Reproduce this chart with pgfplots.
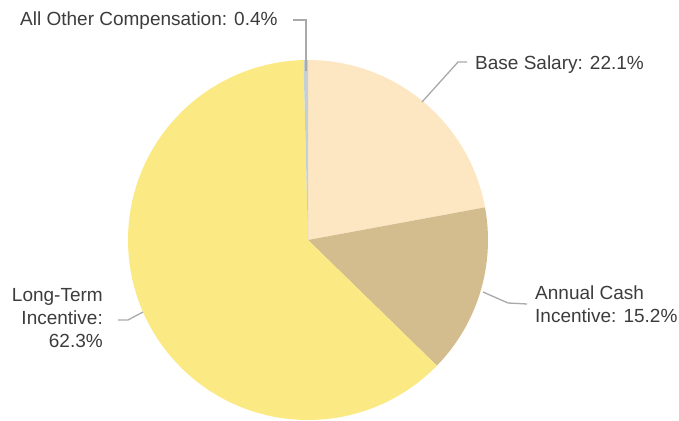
\documentclass[border=0pt]{standalone}
\usepackage{pgfplots}
\pgfplotsset{compat=1.18}
\usepackage{pgfplotstable}
\usepackage{fontspec}
\setmainfont{Liberation Sans}

\definecolor{cbase}{HTML}{FDE6C2}
\definecolor{ccash}{HTML}{D3BC8D}
\definecolor{clti}{HTML}{FBEA83}
\definecolor{cother}{HTML}{C5CFD6}
\definecolor{cleader}{HTML}{A9A9A9}
\definecolor{ctext}{HTML}{3C3C3C}

% share of total compensation, clockwise from 12 o'clock
\pgfplotstableread{
part  value colour
base  22.1  cbase
cash  15.2  ccash
lti   62.3  clti
other 0.4   cother
}\piedata

\begin{document}
\begin{tikzpicture}[
    lab/.style={text=ctext, font=\fontsize{19bp}{23bp}\selectfont, inner sep=0pt},
    leader/.style={cleader, line width=1.3bp}
]
\useasboundingbox (0,0) rectangle (679bp,421bp);
\begin{axis}[
    at={(0,0)}, anchor=south west,
    scale only axis,
    width=679bp, height=421bp,
    xmin=0, xmax=679, ymin=0, ymax=421,
    hide axis, clip=false
]
    \def\angA{90}
    \pgfplotsforeachungrouped \i in {0,...,3}{%
        \pgfplotstablegetelem{\i}{value}\of\piedata \let\val\pgfplotsretval
        \pgfplotstablegetelem{\i}{colour}\of\piedata \let\col\pgfplotsretval
        \pgfmathsetmacro\angB{\angA-3.6*\val}
        \edef\temp{\noexpand\fill[\col] (axis cs:308,181) -- ++(\angA:180bp)
            arc[start angle=\angA, end angle=\angB, radius=180bp] -- cycle;}
        \temp
        \let\angA\angB
    }

    % leaders
    \draw[leader] (axis cs:293,401) -- (axis cs:306,401) -- (axis cs:306,350);
    \draw[leader] (axis cs:467,359) -- (axis cs:458,359) -- (axis cs:422,319);
    \draw[leader] (axis cs:527,117) -- (axis cs:508,118) -- (axis cs:483,129);
    \draw[leader] (axis cs:118,101) -- (axis cs:128,101) -- (axis cs:143,109);

    % labels
    \node[lab, anchor=base west] at (axis cs:20,395) {All Other Compensation: 0.4\%};
    \node[lab, anchor=base west] at (axis cs:475,351) {Base Salary: 22.1\%};
    \node[lab, anchor=base west] at (axis cs:535,121) {Annual Cash};
    \node[lab, anchor=base west] at (axis cs:535,98) {Incentive: 15.2\%};
    \node[lab, anchor=base east] at (axis cs:103,119) {Long-Term};
    \node[lab, anchor=base east] at (axis cs:103,96) {Incentive:};
    \node[lab, anchor=base east] at (axis cs:103,73) {62.3\%};
\end{axis}
\end{tikzpicture}
\end{document}
